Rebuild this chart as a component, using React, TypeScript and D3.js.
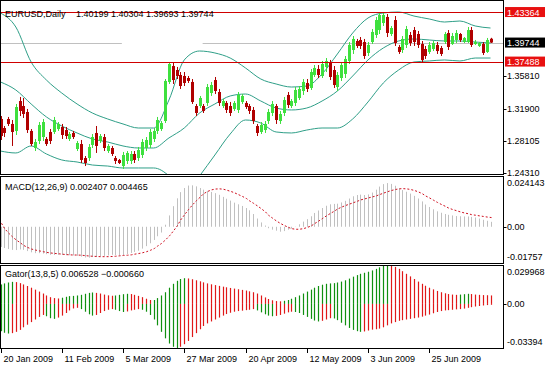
import React from 'react'
import * as d3 from 'd3'

// EURUSD daily, 20 Jan 2009 onwards: [open, high, low, close]
const ohlc: [number, number, number, number][] = [
  [1.3068, 1.3103, 1.2819, 1.2866], [1.2961, 1.2985, 1.2854, 1.2902], [1.3068, 1.3092, 1.2985, 1.3009],
  [1.3009, 1.3056, 1.2748, 1.2914], [1.2926, 1.3246, 1.2878, 1.3210], [1.3281, 1.3329, 1.3103, 1.3163],
  [1.3222, 1.3317, 1.3080, 1.3127], [1.3151, 1.3187, 1.2902, 1.2937], [1.2926, 1.2949, 1.2748, 1.2771],
  [1.2724, 1.2831, 1.2688, 1.2795], [1.2807, 1.3032, 1.2771, 1.2997], [1.2854, 1.3068, 1.2807, 1.3032],
  [1.2831, 1.2854, 1.2748, 1.2771], [1.2914, 1.2949, 1.2771, 1.2807], [1.2914, 1.3092, 1.2890, 1.3056],
  [1.2949, 1.3032, 1.2926, 1.3009], [1.2973, 1.3009, 1.2831, 1.2878], [1.2937, 1.2973, 1.2831, 1.2866],
  [1.2831, 1.2914, 1.2807, 1.2890], [1.2902, 1.2926, 1.2831, 1.2854], [1.2712, 1.2807, 1.2688, 1.2783],
  [1.2771, 1.2819, 1.2546, 1.2582], [1.2605, 1.2629, 1.2510, 1.2546], [1.2605, 1.2771, 1.2570, 1.2736],
  [1.2760, 1.2890, 1.2724, 1.2854], [1.2902, 1.2985, 1.2665, 1.2748], [1.2807, 1.2890, 1.2783, 1.2866],
  [1.2854, 1.2890, 1.2688, 1.2724], [1.2688, 1.2771, 1.2665, 1.2748], [1.2724, 1.2748, 1.2629, 1.2653],
  [1.2605, 1.2629, 1.2534, 1.2570], [1.2582, 1.2594, 1.2534, 1.2546], [1.2510, 1.2677, 1.2475, 1.2641],
  [1.2570, 1.2688, 1.2534, 1.2665], [1.2570, 1.2688, 1.2534, 1.2653], [1.2653, 1.2688, 1.2546, 1.2582],
  [1.2605, 1.2736, 1.2570, 1.2700], [1.2641, 1.2831, 1.2605, 1.2795], [1.2724, 1.2854, 1.2688, 1.2819],
  [1.2760, 1.2949, 1.2724, 1.2914], [1.2831, 1.2961, 1.2795, 1.2926], [1.2926, 1.3092, 1.2890, 1.3056],
  [1.2949, 1.3044, 1.2926, 1.3020], [1.3044, 1.3542, 1.3020, 1.3519], [1.3507, 1.3744, 1.3483, 1.3720],
  [1.3696, 1.3732, 1.3483, 1.3530], [1.3649, 1.3685, 1.3542, 1.3578], [1.3590, 1.3625, 1.3424, 1.3459],
  [1.3578, 1.3625, 1.3459, 1.3495], [1.3554, 1.3578, 1.3495, 1.3519], [1.3507, 1.3542, 1.3246, 1.3270],
  [1.3222, 1.3246, 1.3103, 1.3139], [1.3222, 1.3341, 1.3198, 1.3317], [1.3222, 1.3246, 1.3139, 1.3163],
  [1.3258, 1.3483, 1.3222, 1.3447], [1.3376, 1.3507, 1.3341, 1.3471], [1.3530, 1.3566, 1.3364, 1.3400],
  [1.3388, 1.3424, 1.3222, 1.3258], [1.3222, 1.3305, 1.3198, 1.3281], [1.3258, 1.3281, 1.3139, 1.3175],
  [1.3222, 1.3270, 1.3103, 1.3139], [1.3187, 1.3281, 1.3163, 1.3258], [1.3175, 1.3388, 1.3139, 1.3353],
  [1.3270, 1.3364, 1.3246, 1.3341], [1.3258, 1.3281, 1.3187, 1.3210], [1.3222, 1.3246, 1.3127, 1.3163],
  [1.3175, 1.3210, 1.3009, 1.3044], [1.2985, 1.3009, 1.2866, 1.2902], [1.2914, 1.3032, 1.2890, 1.2997],
  [1.2937, 1.3044, 1.2902, 1.3009], [1.3044, 1.3187, 1.3009, 1.3151], [1.3139, 1.3281, 1.3103, 1.3246],
  [1.3222, 1.3246, 1.3009, 1.3056], [1.3044, 1.3163, 1.3009, 1.3127], [1.3139, 1.3329, 1.3103, 1.3293],
  [1.3353, 1.3388, 1.3198, 1.3234], [1.3222, 1.3305, 1.3198, 1.3281], [1.3258, 1.3447, 1.3222, 1.3412],
  [1.3317, 1.3459, 1.3293, 1.3424], [1.3400, 1.3542, 1.3353, 1.3507], [1.3495, 1.3542, 1.3388, 1.3424],
  [1.3436, 1.3661, 1.3412, 1.3625], [1.3590, 1.3708, 1.3566, 1.3673], [1.3661, 1.3708, 1.3554, 1.3590],
  [1.3578, 1.3756, 1.3554, 1.3720], [1.3685, 1.3791, 1.3625, 1.3756], [1.3732, 1.3768, 1.3530, 1.3566],
  [1.3649, 1.3696, 1.3436, 1.3471], [1.3447, 1.3625, 1.3400, 1.3590], [1.3554, 1.3744, 1.3519, 1.3708],
  [1.3602, 1.3815, 1.3554, 1.3780], [1.3756, 1.3981, 1.3720, 1.3946], [1.3886, 1.4052, 1.3839, 1.4017],
  [1.3993, 1.4017, 1.3910, 1.3934], [1.4005, 1.4040, 1.3898, 1.3934], [1.3981, 1.4017, 1.3780, 1.3815],
  [1.3851, 1.3981, 1.3815, 1.3946], [1.3981, 1.4135, 1.3957, 1.4100], [1.4064, 1.4278, 1.4029, 1.4242],
  [1.4123, 1.4337, 1.4076, 1.4301], [1.4206, 1.4337, 1.4171, 1.4301], [1.4278, 1.4313, 1.4040, 1.4088],
  [1.4076, 1.4171, 1.4052, 1.4147], [1.4242, 1.4289, 1.3934, 1.3969], [1.3922, 1.3946, 1.3839, 1.3863],
  [1.3886, 1.4052, 1.3851, 1.4017], [1.3946, 1.4171, 1.3910, 1.4135], [1.4064, 1.4100, 1.3934, 1.3969],
  [1.4123, 1.4159, 1.3934, 1.3981], [1.4076, 1.4112, 1.3910, 1.3946], [1.3957, 1.3993, 1.3732, 1.3768],
  [1.3898, 1.3934, 1.3780, 1.3815], [1.3863, 1.3981, 1.3839, 1.3946], [1.3898, 1.3993, 1.3874, 1.3969],
  [1.3946, 1.3981, 1.3839, 1.3874], [1.3910, 1.3934, 1.3815, 1.3839], [1.3981, 1.4100, 1.3957, 1.4076],
  [1.4088, 1.4123, 1.3886, 1.3922], [1.3957, 1.4088, 1.3946, 1.4052], [1.4005, 1.4123, 1.3969, 1.4088],
  [1.4076, 1.4088, 1.3981, 1.4005], [1.3981, 1.4040, 1.3969, 1.4029], [1.3981, 1.4159, 1.3969, 1.4123],
  [1.4123, 1.4159, 1.3922, 1.3946], [1.3957, 1.4005, 1.3946, 1.3981], [1.3934, 1.3981, 1.3922, 1.3969],
  [1.3957, 1.3981, 1.3827, 1.3851], [1.3863, 1.4029, 1.3851, 1.4005], [1.40199, 1.40304, 1.39693, 1.39744],
]

// Bollinger bands, read every 4th bar
const bbStep = 4
const bbUpper = [
  1.4325, 1.4159, 1.3744, 1.3530, 1.3376, 1.3246, 1.3139, 1.3068, 1.3009, 1.2961, 1.2961,
  1.3293, 1.3768, 1.3874, 1.3851, 1.3791, 1.3673, 1.3542, 1.3483, 1.3447, 1.3459, 1.3602,
  1.3839, 1.4088, 1.4266, 1.4325, 1.4337, 1.4289, 1.4254, 1.4218, 1.4230, 1.4171, 1.4147,
]
const bbMiddle = [
  1.3507, 1.3412, 1.3246, 1.3092, 1.2985, 1.2902, 1.2831, 1.2795, 1.2748, 1.2724, 1.2724,
  1.2843, 1.2961, 1.3139, 1.3246, 1.3341, 1.3364, 1.3281, 1.3198, 1.3175, 1.3198, 1.3281,
  1.3400, 1.3578, 1.3768, 1.3910, 1.3993, 1.4017, 1.4005, 1.3993, 1.3993, 1.3981, 1.3969,
]
const bbLower = [
  1.2688, 1.2665, 1.2748, 1.2653, 1.2582, 1.2558, 1.2522, 1.2510, 1.2487, 1.2487, 1.2487,
  1.2392, 1.2155, 1.2392, 1.2641, 1.2890, 1.3056, 1.3020, 1.2914, 1.2902, 1.2937, 1.2961,
  1.2961, 1.3068, 1.3270, 1.3495, 1.3649, 1.3744, 1.3756, 1.3768, 1.3756, 1.3791, 1.3791,
]

// MACD(12,26,9): main (histogram) and signal
const macdMain = [
  -0.0098, -0.0103, -0.0108, -0.0112, -0.0113, -0.0110, -0.0112, -0.0118, -0.0124, -0.0128,
  -0.0128, -0.0130, -0.0133, -0.0136, -0.0137, -0.0136, -0.0137, -0.0138, -0.0138, -0.0139,
  -0.0141, -0.0145, -0.0149, -0.0150, -0.0147, -0.0147, -0.0144, -0.0141, -0.0139, -0.0136,
  -0.0137, -0.0139, -0.0137, -0.0132, -0.0127, -0.0122, -0.0116, -0.0106, -0.0094, -0.0080,
  -0.0064, -0.0046, -0.0028, 0.0010, 0.0055, 0.0100, 0.0138, 0.0168, 0.0188, 0.0200,
  0.0201, 0.0196, 0.0188, 0.0180, 0.0174, 0.0169, 0.0163, 0.0155, 0.0145, 0.0136,
  0.0127, 0.0117, 0.0109, 0.0101, 0.0091, 0.0080, 0.0062, 0.0040, 0.0021, 0.0006,
  -0.0007, -0.0014, -0.0019, -0.0024, -0.0021, -0.0014, -0.0009, 0.0001, 0.0012, 0.0025,
  0.0037, 0.0051, 0.0067, 0.0079, 0.0091, 0.0102, 0.0109, 0.0111, 0.0112, 0.0118,
  0.0126, 0.0137, 0.0148, 0.0154, 0.0156, 0.0154, 0.0157, 0.0166, 0.0180, 0.0195,
  0.0207, 0.0212, 0.0208, 0.0199, 0.0187, 0.0178, 0.0170, 0.0161, 0.0150, 0.0137,
  0.0123, 0.0108, 0.0096, 0.0085, 0.0075, 0.0068, 0.0062, 0.0058, 0.0055, 0.0052,
  0.0051, 0.0050, 0.0050, 0.0048, 0.0045, 0.0040, 0.0034, 0.0029, 0.002407,
]
const macdSignal = [
  0.0017, -0.0008, -0.0030, -0.0049, -0.0065, -0.0078, -0.0090, -0.0100, -0.0108, -0.0113,
  -0.0117, -0.0121, -0.0124, -0.0127, -0.0129, -0.0131, -0.0133, -0.0135, -0.0136, -0.0137,
  -0.0137, -0.0138, -0.0140, -0.0142, -0.0143, -0.0144, -0.0145, -0.0145, -0.0145, -0.0144,
  -0.0143, -0.0141, -0.0139, -0.0138, -0.0136, -0.0133, -0.0130, -0.0126, -0.0121, -0.0114,
  -0.0105, -0.0094, -0.0081, -0.0064, -0.0044, -0.0020, 0.0006, 0.0032, 0.0058, 0.0083,
  0.0106, 0.0127, 0.0145, 0.0160, 0.0171, 0.0179, 0.0183, 0.0184, 0.0182, 0.0178,
  0.0172, 0.0165, 0.0156, 0.0147, 0.0137, 0.0126, 0.0114, 0.0101, 0.0087, 0.0072,
  0.0056, 0.0042, 0.0028, 0.0016, 0.0006, -0.0003, -0.0009, -0.0012, -0.0012, -0.0009,
  -0.0003, 0.0005, 0.0015, 0.0027, 0.0040, 0.0053, 0.0065, 0.0076, 0.0086, 0.0095,
  0.0103, 0.0110, 0.0117, 0.0124, 0.0130, 0.0135, 0.0140, 0.0145, 0.0150, 0.0156,
  0.0163, 0.0170, 0.0176, 0.0181, 0.0184, 0.0185, 0.0184, 0.0181, 0.0176, 0.0169,
  0.0160, 0.0150, 0.0140, 0.0129, 0.0118, 0.0108, 0.0099, 0.0091, 0.0084, 0.0078,
  0.0072, 0.0067, 0.0063, 0.0059, 0.0056, 0.0053, 0.0050, 0.0047, 0.004465,
]

// Gator(13,8,5): upper and lower histograms
const gatorUp = [
  0.0150, 0.0158, 0.0165, 0.0170, 0.0168, 0.0160, 0.0150, 0.0138, 0.0125, 0.0110,
  0.0095, 0.0080, 0.0065, 0.0052, 0.0045, 0.0042, 0.0048, 0.0055, 0.0060, 0.0062,
  0.0065, 0.0070, 0.0078, 0.0085, 0.0088, 0.0085, 0.0080, 0.0072, 0.0066, 0.0063,
  0.0065, 0.0070, 0.0075, 0.0078, 0.0076, 0.0070, 0.0062, 0.0052, 0.0040, 0.0030,
  0.0030, 0.0045, 0.0065, 0.0090, 0.0125, 0.0155, 0.0178, 0.0192, 0.0198, 0.0196,
  0.0190, 0.0182, 0.0174, 0.0166, 0.0158, 0.0151, 0.0145, 0.0139, 0.0133, 0.0128,
  0.0123, 0.0118, 0.0113, 0.0108, 0.0103, 0.0097, 0.0090, 0.0080, 0.0065, 0.0050,
  0.0038, 0.0028, 0.0022, 0.0020, 0.0024, 0.0030, 0.0040, 0.0052, 0.0065, 0.0080,
  0.0095, 0.0110, 0.0125, 0.0138, 0.0148, 0.0155, 0.0158, 0.0160, 0.0165, 0.0172,
  0.0182, 0.0195, 0.0210, 0.0222, 0.0232, 0.0240, 0.0248, 0.0258, 0.0270, 0.0282,
  0.0292, 0.0299, 0.0295, 0.0285, 0.0270, 0.0252, 0.0232, 0.0212, 0.0192, 0.0172,
  0.0155, 0.0140, 0.0125, 0.0112, 0.0100, 0.0090, 0.0082, 0.0076, 0.0072, 0.0070,
  0.0072, 0.0075, 0.0078, 0.0076, 0.0072, 0.0070, 0.0068, 0.0067, 0.006528,
]
const gatorDown = [
  -0.0210, -0.0222, -0.0228, -0.0225, -0.0215, -0.0200, -0.0180, -0.0160, -0.0140, -0.0120,
  -0.0100, -0.0085, -0.0095, -0.0110, -0.0115, -0.0105, -0.0090, -0.0070, -0.0050, -0.0035,
  -0.0030, -0.0040, -0.0060, -0.0080, -0.0090, -0.0085, -0.0070, -0.0055, -0.0045, -0.0040,
  -0.0045, -0.0055, -0.0062, -0.0058, -0.0050, -0.0045, -0.0040, -0.0045, -0.0060, -0.0085,
  -0.0120, -0.0165, -0.0215, -0.0265, -0.0305, -0.0330, -0.0339, -0.0330, -0.0310, -0.0285,
  -0.0255, -0.0225, -0.0195, -0.0170, -0.0150, -0.0135, -0.0120, -0.0105, -0.0090, -0.0078,
  -0.0068, -0.0060, -0.0055, -0.0052, -0.0048, -0.0045, -0.0040, -0.0050, -0.0065, -0.0080,
  -0.0090, -0.0095, -0.0092, -0.0085, -0.0075, -0.0065, -0.0060, -0.0062, -0.0070, -0.0085,
  -0.0100, -0.0115, -0.0128, -0.0135, -0.0130, -0.0120, -0.0110, -0.0112, -0.0125, -0.0145,
  -0.0165, -0.0185, -0.0200, -0.0210, -0.0215, -0.0212, -0.0205, -0.0198, -0.0195, -0.0190,
  -0.0180, -0.0165, -0.0150, -0.0140, -0.0130, -0.0125, -0.0120, -0.0115, -0.0110, -0.0105,
  -0.0098, -0.0090, -0.0082, -0.0072, -0.0062, -0.0055, -0.0050, -0.0048, -0.0045, -0.0042,
  -0.0040, -0.0036, -0.0030, -0.0025, -0.0020, -0.0016, -0.0012, -0.0009, -0.00066,
]

const dateLabels = ['20 Jan 2009', '11 Feb 2009', '5 Mar 2009', '27 Mar 2009', '20 Apr 2009', '12 May 2009', '3 Jun 2009', '25 Jun 2009']
const dateEvery = 16

const priceTicks = ['1.35810', '1.31900', '1.28105', '1.24310']
const levels = ['1.43364', '1.37488']
const bidGap = [31.7, 52.8] // bar range where the bid line is hidden

const macdRange = [-0.01757, 0.024143]
const gatorRange = [-0.03394, 0.029968]

const FONT = 'Liberation Sans, Arial, sans-serif'
const UP = '#3ee03e'
const DOWN = '#b00000'
const BAND = '#2f9f88'

export default function App() {
  const n = ohlc.length
  const right = 503.5
  const x = d3.scaleLinear().domain([0, n - 1]).range([0.5, 490.5])
  const yP = d3.scaleLinear().domain([1.24037, 1.44673]).range([175, 1])
  const yM = d3.scaleLinear().domain(macdRange).range([263, 177])
  const yG = d3.scaleLinear().domain(gatorRange).range([348, 265])
  const px = (i: number) => Math.round(x(i)) + 0.5

  const band = d3.line<number>()
    .x((_, i) => x(i * bbStep))
    .y(d => yP(d))
    .curve(d3.curveMonotoneX)

  const signal = d3.line<number>()
    .x((_, i) => px(i))
    .y(d => yM(d))

  const last = ohlc[n - 1]
  const fmt = d3.format('.5f')
  const bid = last[3]

  return (
    <svg width={545} height={366} style={{ position: 'absolute', left: 0, top: 0, background: '#fff' }}
      fontFamily={FONT} fontSize={9}>
      <defs>
        <clipPath id="mainClip"><rect x={1} y={1} width={502} height={173} /></clipPath>
      </defs>

      {/* price panel */}
      <g clipPath="url(#mainClip)">
        <line x1={0} x2={x(bidGap[0])} y1={Math.round(yP(bid)) + 0.5} y2={Math.round(yP(bid)) + 0.5} stroke="#c0c0c0" />
        <line x1={x(bidGap[1])} x2={right} y1={Math.round(yP(bid)) + 0.5} y2={Math.round(yP(bid)) + 0.5} stroke="#c0c0c0" />
        {[bbUpper, bbMiddle, bbLower].map((b, k) => (
          <path key={k} d={band(b) || ''} fill="none" stroke={BAND} strokeWidth={1} />
        ))}
        {ohlc.map(([o, h, l, c], i) => {
          const col = c >= o ? UP : DOWN
          const top = yP(Math.max(o, c))
          const bh = Math.max(1, Math.abs(yP(o) - yP(c)))
          return (
            <g key={i}>
              <line x1={px(i)} x2={px(i)} y1={yP(h)} y2={yP(l)} stroke={col} />
              <rect x={px(i) - 1.5} y={top} width={3} height={bh} fill={col} />
            </g>
          )
        })}
        {levels.map(v => (
          <line key={v} x1={0} x2={right} y1={Math.round(yP(+v)) + 0.5} y2={Math.round(yP(+v)) + 0.5} stroke="#d00000" />
        ))}
      </g>
      <text x={5} y={16.5}>EURUSD,Daily</text>
      <text x={76} y={16.5}>{last.map(v => fmt(v)).join(' ')}</text>

      {/* MACD panel */}
      {macdMain.map((v, i) => (
        <line key={i} x1={px(i)} x2={px(i)} y1={yM(0)} y2={yM(v)} stroke="#c0c0c0" />
      ))}
      <path d={signal(macdSignal) || ''} fill="none" stroke="#d01020" strokeDasharray="2,2" />
      <text x={5} y={190}>MACD(12,26,9) {d3.format('.6f')(macdMain[n - 1])} {d3.format('.6f')(macdSignal[n - 1])}</text>

      {/* Gator panel */}
      {gatorUp.map((v, i) => (
        <line key={'u' + i} x1={px(i)} x2={px(i)} y1={yG(0)} y2={yG(v)}
          stroke={i > 0 && v < gatorUp[i - 1] ? '#e01818' : '#109010'} strokeWidth={1.2} />
      ))}
      {gatorDown.map((v, i) => (
        <line key={'d' + i} x1={px(i)} x2={px(i)} y1={yG(0)} y2={yG(v)}
          stroke={i > 0 && Math.abs(v) < Math.abs(gatorDown[i - 1]) ? '#e01818' : '#109010'} strokeWidth={1.2} />
      ))}
      <text x={5} y={277}>Gator(13,8,5) {d3.format('.6f')(gatorUp[n - 1])} {d3.format('.6f')(gatorDown[n - 1])}</text>

      {/* frames */}
      <rect x={0.5} y={0.5} width={503} height={174} fill="none" stroke="#000" />
      <rect x={0.5} y={176.5} width={503} height={87} fill="none" stroke="#000" />
      <rect x={0.5} y={265.5} width={503} height={83} fill="none" stroke="#000" />

      {/* right axis: price */}
      {priceTicks.map(t => (
        <g key={t}>
          <line x1={right} x2={right + 3} y1={Math.round(yP(+t)) + 0.5} y2={Math.round(yP(+t)) + 0.5} stroke="#000" />
          <text x={507} y={yP(+t) + 3.5}>{t}</text>
        </g>
      ))}
      {levels.map(v => (
        <g key={v}>
          <rect x={505} y={yP(+v) - 5} width={40} height={10} fill="#e81010" />
          <text x={507} y={yP(+v) + 3.5} fill="#fff">{v}</text>
        </g>
      ))}
      <rect x={505} y={yP(bid) - 5} width={40} height={10} fill="#000" />
      <text x={507} y={yP(bid) + 3.5} fill="#fff">{fmt(bid)}</text>

      {/* right axis: MACD */}
      <text x={507} y={186}>{String(macdRange[1])}</text>
      <line x1={right} x2={right + 3} y1={Math.round(yM(0)) + 0.5} y2={Math.round(yM(0)) + 0.5} stroke="#000" />
      <text x={507} y={yM(0) + 3.5}>0.00</text>
      <text x={507} y={260}>{String(macdRange[0])}</text>

      {/* right axis: Gator */}
      <text x={507} y={275}>{String(gatorRange[1])}</text>
      <line x1={right} x2={right + 3} y1={Math.round(yG(0)) + 0.5} y2={Math.round(yG(0)) + 0.5} stroke="#000" />
      <text x={507} y={yG(0) + 3.5}>0.00</text>
      <text x={507} y={345}>{String(gatorRange[0])}</text>

      {/* time axis */}
      {dateLabels.map((d, k) => (
        <g key={d}>
          <line x1={px(k * dateEvery)} x2={px(k * dateEvery)} y1={349} y2={353} stroke="#000" />
          <text x={px(k * dateEvery) + 2} y={362}>{d}</text>
        </g>
      ))}
    </svg>
  )
}
